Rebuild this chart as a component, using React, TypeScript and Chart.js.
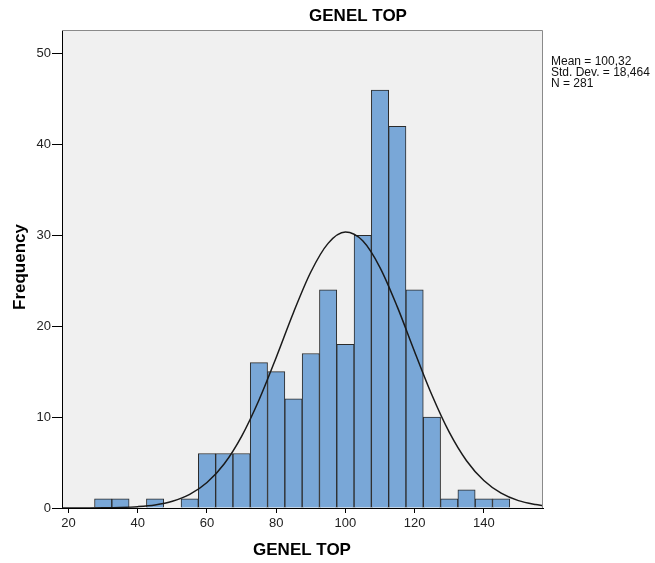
import React, { useEffect, useRef } from "react";
import { Chart, registerables } from "chart.js";

Chart.register(...registerables);

const BIN_CENTERS = [30, 35, 40, 45, 50, 55, 60, 65, 70, 75, 80, 85, 90, 95, 100, 105, 110, 115, 120, 125, 130, 135, 140, 145];
const COUNTS = [1, 1, 0, 1, 0, 1, 6, 6, 6, 16, 15, 12, 17, 24, 18, 30, 46, 42, 24, 10, 1, 2, 1, 1];

const CURVE_X = [18, 20, 25, 30, 35, 40, 45, 50, 55, 60, 65, 70, 75, 80, 85, 90, 95, 100, 105, 110, 115, 120, 125, 130, 135, 140, 145, 150, 155, 157];
const CURVE_Y = [0.001, 0.002, 0.007, 0.02, 0.06, 0.15, 0.34, 0.74, 1.49, 2.8, 4.87, 7.89, 11.86, 16.57, 21.52, 25.97, 29.12, 30.36, 29.4, 26.46, 22.13, 17.2, 12.43, 8.34, 5.2, 3.02, 1.63, 0.81, 0.38, 0.27];

const X_TICKS = [20, 40, 60, 80, 100, 120, 140];
const Y_TICKS = [0, 10, 20, 30, 40, 50];

const TITLE = "GENEL TOP";
const X_TITLE = "GENEL TOP";
const Y_TITLE = "Frequency";
const STATS = ["Mean = 100,32", "Std. Dev. = 18,464", "N = 281"];

const FONT = "'Liberation Sans', Arial, sans-serif";

const framePlugin = {
  id: "frame",
  beforeDraw(chart: any) {
    const { ctx, chartArea: a } = chart;
    ctx.save();
    ctx.fillStyle = "#ffffff";
    ctx.fillRect(0, 0, chart.width, chart.height);
    ctx.fillStyle = "#f0f0f0";
    ctx.fillRect(a.left, a.top, a.right - a.left, a.bottom - a.top);
    ctx.restore();
  },
  afterDraw(chart: any) {
    const { ctx, chartArea: a } = chart;
    ctx.save();
    ctx.strokeStyle = "#8a8a8a";
    ctx.lineWidth = 1;
    ctx.beginPath();
    ctx.moveTo(a.left, a.top + 0.5);
    ctx.lineTo(a.right - 0.5, a.top + 0.5);
    ctx.lineTo(a.right - 0.5, a.bottom);
    ctx.stroke();

    ctx.fillStyle = "#000";
    ctx.textAlign = "center";
    ctx.textBaseline = "middle";
    ctx.font = `bold 17px ${FONT}`;
    ctx.fillText(TITLE, 358, 16);
    ctx.fillText(X_TITLE, 302, 550);

    ctx.save();
    ctx.translate(20, 267);
    ctx.rotate(-Math.PI / 2);
    ctx.fillText(Y_TITLE, 0, 0);
    ctx.restore();

    ctx.textAlign = "left";
    ctx.font = `12px ${FONT}`;
    ctx.fillStyle = "#111";
    STATS.forEach((s, i) => ctx.fillText(s, 551, 62 + i * 11));
    ctx.restore();
  },
};

export default function App() {
  const ref = useRef<HTMLCanvasElement | null>(null);

  useEffect(() => {
    if (!ref.current) return;
    const chart = new Chart(ref.current, {
      type: "bar",
      data: {
        datasets: [
          {
            type: "line",
            data: CURVE_X.map((x, i) => ({ x, y: CURVE_Y[i] })),
            borderColor: "#1a1a1a",
            borderWidth: 1.5,
            pointRadius: 0,
            fill: false,
            cubicInterpolationMode: "monotone",
            order: 0,
          } as any,
          {
            type: "bar",
            data: BIN_CENTERS.map((x, i) => ({ x, y: COUNTS[i] })),
            backgroundColor: "#79a7d7",
            borderColor: "#2b2b2b",
            borderWidth: 1,
            barPercentage: 1,
            categoryPercentage: 1,
            order: 1,
          } as any,
        ],
      },
      options: {
        animation: false,
        responsive: false,
        layout: { padding: { top: 30, right: 112, left: 0, bottom: 0 } },
        plugins: {
          legend: { display: false },
          title: { display: false },
          tooltip: { enabled: false },
        },
        scales: {
          x: {
            type: "linear",
            offset: false,
            min: 18.1,
            max: 157.1,
            afterBuildTicks: (s: any) => {
              s.ticks = X_TICKS.map((v) => ({ value: v }));
            },
            afterFit: (s: any) => {
              s.height = 55;
            },
            ticks: { font: { family: FONT, size: 13 }, color: "#222", padding: 3, maxRotation: 0 },
            grid: { offset: false, drawOnChartArea: false, drawTicks: true, tickLength: 5, tickColor: "#000", color: "#000" },
            border: { display: true, color: "#000", width: 1 },
          },
          y: {
            min: 0,
            max: 52.6,
            afterBuildTicks: (s: any) => {
              s.ticks = Y_TICKS.map((v) => ({ value: v }));
            },
            afterFit: (s: any) => {
              s.width = 62;
            },
            ticks: { font: { family: FONT, size: 13 }, color: "#222", padding: 1 },
            grid: { offset: false, drawOnChartArea: false, drawTicks: true, tickLength: 10, tickColor: "#000", color: "#000" },
            border: { display: true, color: "#000", width: 1 },
          },
        },
      },
      plugins: [framePlugin],
    } as any);
    return () => chart.destroy();
  }, []);

  return (
    <div style={{ position: "absolute", left: 0, top: 0, width: 655, height: 563 }}>
      <canvas ref={ref} width={655} height={563} />
    </div>
  );
}
